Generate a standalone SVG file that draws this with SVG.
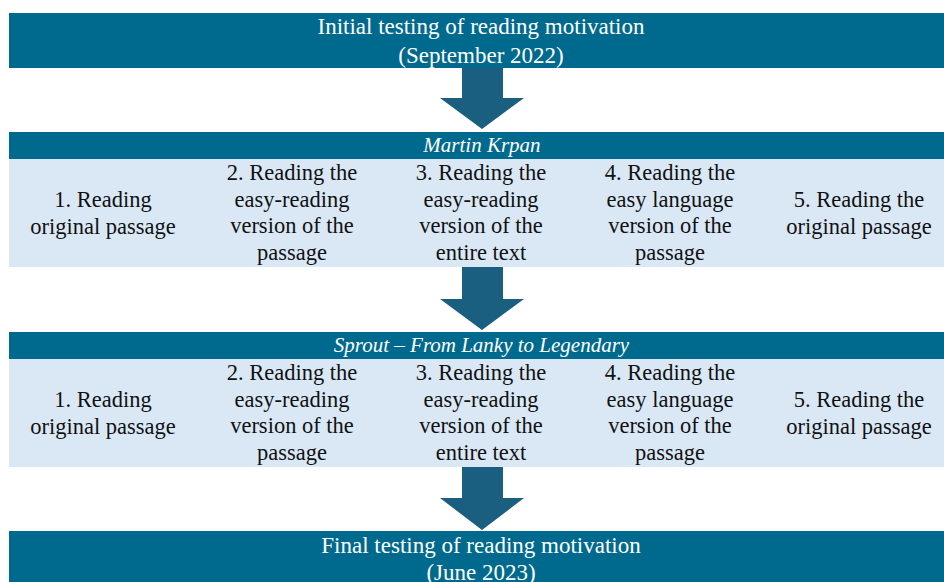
<svg xmlns="http://www.w3.org/2000/svg" width="944" height="582" viewBox="0 0 944 582">
<style>
.bar{fill:#006a8e}
.panel{fill:#dae8f6}
.arrow{fill:#1a5f80}
text{font-family:"Liberation Serif","Times New Roman",serif;text-anchor:middle}
.hd{fill:#ffffff;font-size:23px}
.it{fill:#ffffff;font-size:21px;font-style:italic}
.bd{fill:#111111;font-size:22.5px}
</style>
<rect width="944" height="582" fill="#ffffff"/>
<g id="initial">
<rect class="bar" x="9" y="13" width="935" height="55"/>
<text class="hd" x="481" y="34">Initial testing of reading motivation</text>
<text class="hd" x="481" y="63">(September 2022)</text>
</g>
<g id="martin-krpan">
<rect class="bar" x="9" y="132" width="935" height="27"/>
<rect class="panel" x="9" y="159" width="935" height="108"/>
<text class="it" x="482" y="152">Martin Krpan</text>
<text class="bd" x="103" y="207">1. Reading</text>
<text class="bd" x="103" y="233.5">original passage</text>
<text class="bd" x="292" y="180">2. Reading the</text>
<text class="bd" x="292" y="206.7">easy-reading</text>
<text class="bd" x="292" y="233.3">version of the</text>
<text class="bd" x="292" y="260">passage</text>
<text class="bd" x="481" y="180">3. Reading the</text>
<text class="bd" x="481" y="206.7">easy-reading</text>
<text class="bd" x="481" y="233.3">version of the</text>
<text class="bd" x="481" y="260">entire text</text>
<text class="bd" x="670" y="180">4. Reading the</text>
<text class="bd" x="670" y="206.7">easy language</text>
<text class="bd" x="670" y="233.3">version of the</text>
<text class="bd" x="670" y="260">passage</text>
<text class="bd" x="859" y="207">5. Reading the</text>
<text class="bd" x="859" y="233.5">original passage</text>
</g>
<g id="sprout">
<rect class="bar" x="9" y="332" width="935" height="27"/>
<rect class="panel" x="9" y="359" width="935" height="108"/>
<text class="it" x="481.5" y="352">Sprout – From Lanky to Legendary</text>
<text class="bd" x="103" y="407">1. Reading</text>
<text class="bd" x="103" y="433.5">original passage</text>
<text class="bd" x="292" y="380">2. Reading the</text>
<text class="bd" x="292" y="406.7">easy-reading</text>
<text class="bd" x="292" y="433.3">version of the</text>
<text class="bd" x="292" y="460">passage</text>
<text class="bd" x="481" y="380">3. Reading the</text>
<text class="bd" x="481" y="406.7">easy-reading</text>
<text class="bd" x="481" y="433.3">version of the</text>
<text class="bd" x="481" y="460">entire text</text>
<text class="bd" x="670" y="380">4. Reading the</text>
<text class="bd" x="670" y="406.7">easy language</text>
<text class="bd" x="670" y="433.3">version of the</text>
<text class="bd" x="670" y="460">passage</text>
<text class="bd" x="859" y="407">5. Reading the</text>
<text class="bd" x="859" y="433.5">original passage</text>
</g>
<g id="final">
<rect class="bar" x="9" y="531" width="935" height="51"/>
<text class="hd" x="481" y="553">Final testing of reading motivation</text>
<text class="hd" x="481" y="580">(June 2023)</text>
</g>
<g id="connectors">
<polygon class="arrow" points="462,68 503,68 503,98 524,98 482,129 440,98 462,98"/>
<polygon class="arrow" points="462,267 503,267 503,299 524,299 482,330 440,299 462,299"/>
<polygon class="arrow" points="462,467 503,467 503,498 524,498 482,530 440,498 462,498"/>
</g>
</svg>
